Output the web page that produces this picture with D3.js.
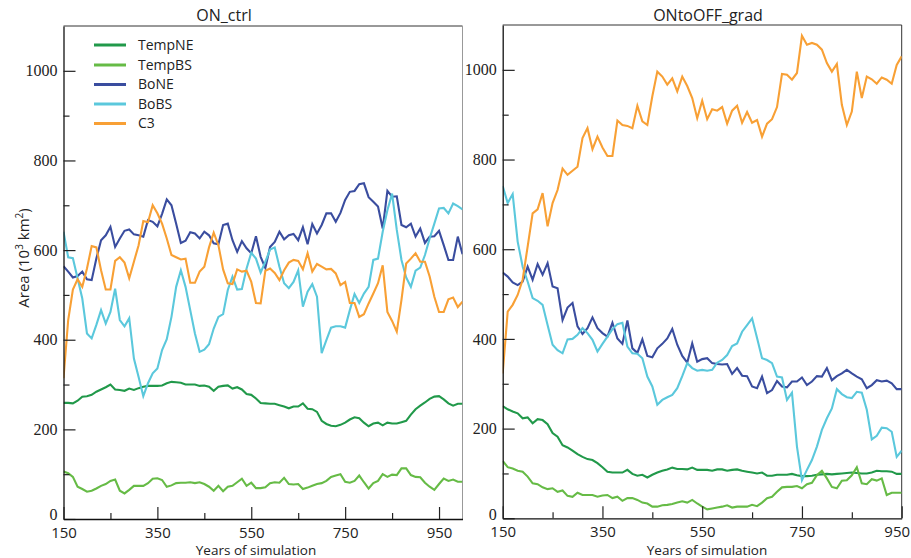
<!DOCTYPE html>
<html>
<head>
<meta charset="utf-8">
<script src="https://cdn.jsdelivr.net/npm/d3@7/dist/d3.min.js"></script>
<style>
  html, body { margin: 0; padding: 0; background: #fff; }
  svg { display: block; }
</style>
</head>
<body>
<svg id="chart" width="911" height="558"></svg>
<script>
// Simulated vegetation area (10^3 km^2) per plant functional type, every 10 years.
const yearsCtrl = d3.range(150, 1001, 10);
const yearsGrad = d3.range(150, 951, 10);

const seriesNames = ["TempNE", "TempBS", "BoNE", "BoBS", "C3"];
const seriesColors = ["#21994a", "#66bb46", "#3a4d9f", "#5bc8dc", "#f8a035"];

// ON_ctrl run
const ctrlTempNE = [
  259,259,258,264,273,274,277,284,289,294,
  300,289,288,286,291,288,292,295,297,297,
  297,298,303,306,305,304,300,300,300,297,
  298,295,286,295,297,298,291,294,289,279,
  277,269,259,258,257,257,254,251,247,251,
  251,258,246,245,239,219,212,208,207,210,
  215,222,227,225,215,207,213,215,209,215,
  213,213,216,219,233,245,253,260,268,273,
  274,267,258,253,257,257];
const ctrlTempBS = [
  106,102,94,72,67,61,63,68,74,78,
  85,88,63,57,65,74,74,74,80,90,
  91,87,72,75,80,81,81,82,80,82,
  78,72,63,74,62,72,74,82,90,74,
  81,69,69,71,80,82,81,92,78,77,
  78,67,70,74,78,80,85,94,97,100,
  83,81,85,97,82,68,80,85,100,94,
  99,98,113,113,98,94,93,81,72,65,
  78,90,85,88,83,83];
const ctrlBoNE = [
  564,552,539,542,552,535,533,581,622,633,
  652,607,626,643,646,635,633,630,667,663,
  653,681,713,700,659,616,621,640,637,626,
  641,633,615,613,656,659,622,596,620,604,
  593,631,585,560,607,618,641,624,633,636,
  622,651,613,658,637,656,682,682,663,683,
  712,730,732,747,749,718,708,697,648,732,
  719,720,656,651,659,630,648,616,630,631,
  643,611,578,578,630,591];
const ctrlBoBS = [
  641,584,582,537,492,414,403,433,466,436,
  462,514,444,430,448,358,317,274,303,325,
  336,377,401,451,518,555,518,466,414,373,
  378,390,425,451,457,511,541,512,513,559,
  594,581,550,574,601,606,563,526,515,529,
  555,474,507,524,496,370,399,427,430,430,
  427,466,502,482,503,518,578,581,641,689,
  726,645,578,539,518,554,561,589,626,659,
  693,694,682,704,698,691];
const ctrlC3 = [
  314,444,512,535,518,559,609,606,555,512,
  512,576,584,572,537,574,611,665,662,700,
  682,659,626,589,584,579,581,527,527,552,
  563,606,639,611,557,526,524,557,552,554,
  529,482,481,554,559,549,533,555,572,578,
  576,557,593,552,569,563,557,558,548,522,
  529,482,482,451,457,481,503,526,566,462,
  442,418,489,570,581,593,574,574,541,496,
  462,462,490,494,473,485];

// ONtoOFF_grad run
const gradTempNE = [
  250,243,238,234,223,225,212,221,219,210,
  190,182,163,158,151,143,137,132,130,123,
  114,104,102,102,102,108,99,95,97,91,
  97,102,106,109,113,110,110,109,113,108,
  108,108,106,109,109,106,108,109,106,104,
  102,100,102,95,95,97,97,97,99,96,
  94,94,95,97,98,99,98,99,100,101,
  102,101,100,100,102,106,105,105,104,99,
  99];
const gradTempBS = [
  128,114,111,106,104,93,78,76,69,65,
  67,59,62,50,48,57,52,52,52,48,
  51,52,45,48,39,45,45,41,35,33,
  26,26,29,30,32,35,38,35,41,33,
  26,20,22,24,26,29,24,26,26,26,
  30,27,35,45,48,59,69,70,70,72,
  67,76,79,96,106,89,70,67,84,85,
  96,114,78,76,87,84,89,52,57,57,
  57];
const gradBoNE = [
  548,539,526,520,528,561,532,567,543,569,
  517,513,442,470,480,428,411,424,448,424,
  413,405,436,401,389,441,379,369,399,362,
  359,379,389,401,422,387,362,347,390,349,
  355,357,346,344,343,344,322,335,318,317,
  294,290,316,279,286,306,294,292,305,305,
  314,297,305,317,316,335,308,317,323,331,
  323,316,310,290,297,308,305,307,301,288,
  288];
const gradBoBS = [
  741,703,723,617,561,528,491,485,476,431,
  387,375,368,399,400,409,424,413,398,372,
  389,405,422,433,436,383,368,367,357,316,
  294,253,264,270,275,290,317,346,335,329,
  331,329,331,347,353,364,384,390,416,431,
  446,402,357,353,346,316,314,264,280,160,
  85,108,130,160,197,223,245,288,277,270,
  268,282,280,242,176,184,202,201,193,137,
  151];
const gradC3 = [
  323,461,476,498,532,606,680,689,725,651,
  703,732,780,766,775,784,848,870,823,851,
  827,808,808,887,877,875,870,920,885,877,
  941,996,985,967,981,952,985,964,937,892,
  931,890,912,909,917,880,909,920,882,906,
  882,888,851,880,890,917,991,989,978,993,
  1076,1056,1060,1056,1045,1015,996,1013,922,877,
  907,996,937,985,979,969,983,978,969,1011,
  1030];

const yMajor = [0, 200, 400, 600, 800, 1000];
const yMinor = [100, 300, 500, 700, 900];
const xMajor = [150, 350, 550, 750, 950];
const xMinor = [250, 450, 650, 850];

const svg = d3.select("#chart");
const SANS = "'Open Sans', 'DejaVu Sans', sans-serif";
const SERIF = "'Liberation Serif', 'DejaVu Serif', serif";

function drawPanel(p) {
  const x = d3.scaleLinear().domain(p.xDomain).range([p.left, p.right]);
  const y = d3.scaleLinear().domain([0, 1100]).range([p.bottom, p.top]);
  const g = svg.append("g");

  const clipId = "clip-" + p.id;
  svg.append("defs").append("clipPath").attr("id", clipId)
    .append("rect")
    .attr("x", p.left).attr("y", p.top)
    .attr("width", p.right - p.left).attr("height", p.bottom - p.top);

  // frame (top and right edges)
  g.append("path")
    .attr("d", `M${p.left},${p.top}H${p.right}`)
    .attr("stroke", "#333").attr("stroke-width", 1).attr("fill", "none");
  g.append("path")
    .attr("d", `M${p.right},${p.top}V${p.bottom}`)
    .attr("stroke", p.rightEdge).attr("stroke-width", 1).attr("fill", "none");

  // series lines
  const line = d3.line().x((d, i) => x(p.years[i])).y(d => y(d));
  const lines = g.append("g").attr("clip-path", `url(#${clipId})`);
  p.series.forEach((vals, k) => {
    lines.append("path")
      .attr("d", line(vals))
      .attr("fill", "none")
      .attr("stroke", seriesColors[k])
      .attr("stroke-width", 2.1)
      .attr("stroke-linejoin", "miter");
  });

  // y axis, ticks pointing inward
  const yAxis = g.append("g").attr("transform", `translate(${p.left},0)`)
    .call(d3.axisLeft(y).tickValues(yMajor).tickSizeInner(-12).tickSizeOuter(0)
      .tickPadding(6).tickFormat(d3.format("d")));
  g.append("g").attr("transform", `translate(${p.left},0)`)
    .call(d3.axisLeft(y).tickValues(yMinor).tickSizeInner(-6).tickSizeOuter(0).tickFormat(""))
    .select(".domain").remove();
  yAxis.selectAll("text")
    .attr("font-family", SERIF).attr("font-size", 16).attr("fill", "#222");
  // lift the zero label so it clears the year labels
  yAxis.selectAll(".tick").filter(d => d === 0).select("text").attr("dy", "0.05em");

  // x axis, ticks pointing inward
  const xAxis = g.append("g").attr("transform", `translate(0,${p.bottom})`)
    .call(d3.axisBottom(x).tickValues(xMajor).tickSizeInner(-12).tickSizeOuter(0)
      .tickPadding(8).tickFormat(d3.format("d")));
  g.append("g").attr("transform", `translate(0,${p.bottom})`)
    .call(d3.axisBottom(x).tickValues(xMinor).tickSizeInner(-6).tickSizeOuter(0).tickFormat(""))
    .select(".domain").remove();
  xAxis.selectAll("text")
    .attr("font-family", SANS).attr("font-size", 15).attr("fill", "#222");
  xAxis.selectAll(".tick").filter(d => d === 950).select("text")
    .attr("dx", p.lastShift);

  g.selectAll(".domain").attr("stroke", "#111").attr("stroke-width", 1.3);
  g.selectAll(".tick line").attr("stroke", "#222").attr("stroke-width", 1.2);

  // title and x label
  g.append("text")
    .attr("x", p.titleX).attr("y", 21)
    .attr("text-anchor", "middle")
    .attr("font-family", SANS).attr("font-size", 16).attr("fill", "#222")
    .text(p.title);
  g.append("text")
    .attr("x", p.xLabelX).attr("y", 555)
    .attr("text-anchor", "middle")
    .attr("font-family", SANS).attr("font-size", 13.5).attr("fill", "#222")
    .text("Years of simulation");

  return g;
}

drawPanel({
  id: "ctrl", title: "ON_ctrl",
  left: 63.5, right: 462.5, top: 26, bottom: 519,
  xDomain: [150, 1000], years: yearsCtrl,
  series: [ctrlTempNE, ctrlTempBS, ctrlBoNE, ctrlBoBS, ctrlC3],
  rightEdge: "#999", titleX: 224, xLabelX: 256, lastShift: 0
});

drawPanel({
  id: "grad", title: "ONtoOFF_grad",
  left: 502.7, right: 901.7, top: 25, bottom: 518.3,
  xDomain: [150, 950], years: yearsGrad,
  series: [gradTempNE, gradTempBS, gradBoNE, gradBoBS, gradC3],
  rightEdge: "#333", titleX: 708, xLabelX: 707, lastShift: -5
});

// y axis title
const yTitle = svg.append("text")
  .attr("transform", "translate(29,258) rotate(-90)")
  .attr("text-anchor", "middle")
  .attr("font-family", SANS).attr("font-size", 15).attr("fill", "#222");
yTitle.append("tspan").text("Area (10");
yTitle.append("tspan").attr("font-size", 10).attr("dy", -6).text("3");
yTitle.append("tspan").attr("dy", 6).text(" km");
yTitle.append("tspan").attr("font-size", 10).attr("dy", -6).text("2");
yTitle.append("tspan").attr("dy", 6).text(")");

// legend
const legend = svg.append("g");
const legendRows = [45, 65, 84.5, 104, 123.5];
seriesNames.forEach((name, k) => {
  const row = legend.append("g").attr("transform", `translate(0,${legendRows[k]})`);
  row.append("line")
    .attr("x1", 94).attr("x2", 126).attr("y1", 0).attr("y2", 0)
    .attr("stroke", seriesColors[k]).attr("stroke-width", 3);
  row.append("text")
    .attr("x", 138).attr("y", 0).attr("dy", "0.35em")
    .attr("font-family", SANS).attr("font-size", 14).attr("fill", "#222")
    .text(name);
});
</script>
</body>
</html>
